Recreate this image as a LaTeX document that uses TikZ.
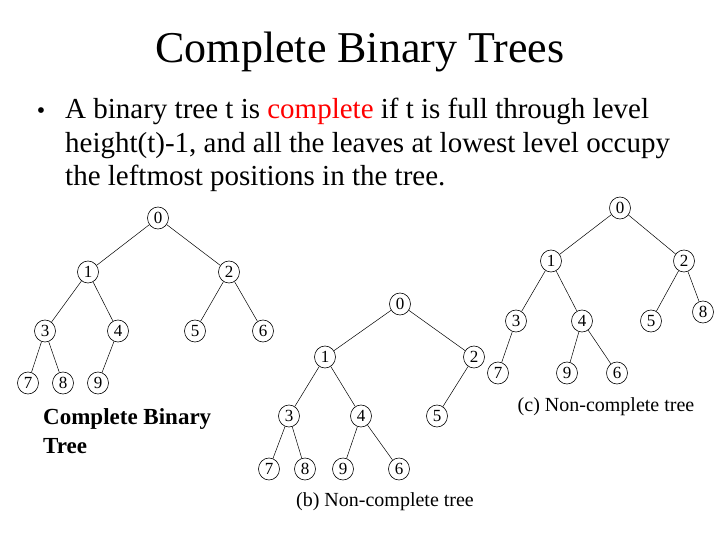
\documentclass[tikz,border=0pt]{standalone}
\usepackage{fontspec}
\usetikzlibrary{shapes.geometric}
\setmainfont{Liberation Serif}
\begin{document}
\begin{tikzpicture}[x=1pt,y=-1pt,
  nd/.style={draw,ellipse,minimum width=21pt,minimum height=22pt,inner sep=0pt,line width=0.6pt},
  lb/.style={font=\fontsize{17}{17}\selectfont},
  ed/.style={line width=0.5pt}]
\useasboundingbox (0,0) rectangle (720,540);
\node[font=\fontsize{44}{48}\selectfont] (title) at (360,52) {Complete Binary Trees};
\node[anchor=north west,align=left,inner sep=0pt,font=\fontsize{29}{33.5}\selectfont] (bul) at (65,98) {A binary tree t is \textcolor{red}{complete} if t is full through level\\height(t)-1, and all the leaves at lowest level occupy\\the leftmost positions in the tree.};
\node[font=\fontsize{24}{24}\selectfont] (dot) at (41,113) {•};
% tree a
\foreach \n/\x/\y in {a0/158/218,a1/88/272,a2/229/272,a3/45/331,a4/118/331,a5/195/331,a6/263/331,a7/28/383,a8/63/383,a9/98/383}
  \node[nd] (\n) at (\x,\y) {};
\foreach \n/\t in {a0/0,a1/1,a2/2,a3/3,a4/4,a5/5,a6/6,a7/7,a8/8,a9/9} \node[lb] at (\n) {\t};
\foreach \a/\b in {a0/a1,a0/a2,a1/a3,a1/a4,a2/a5,a2/a6,a3/a7,a3/a8,a4/a9} \draw[ed] (\a)--(\b);
% tree b
\foreach \n/\x/\y in {b0/400/304,b1/325/357,b2/474/357,b3/289/416,b4/361/416,b5/437/416,b7/269/469,b8/305/469,b9/343/469,b6/399/469}
  \node[nd] (\n) at (\x,\y) {};
\foreach \n/\t in {b0/0,b1/1,b2/2,b3/3,b4/4,b5/5,b6/6,b7/7,b8/8,b9/9} \node[lb] at (\n) {\t};
\foreach \a/\b in {b0/b1,b0/b2,b1/b3,b1/b4,b2/b5,b3/b7,b3/b8,b4/b9,b4/b6} \draw[ed] (\a)--(\b);
% tree c
\foreach \n/\x/\y in {c0/620/208,c1/551/261,c2/684/261,c3/516/321,c4/582/321,c5/651/321,c8/703/312,c7/498/373,c9/567/373,c6/617/373}
  \node[nd] (\n) at (\x,\y) {};
\foreach \n/\t in {c0/0,c1/1,c2/2,c3/3,c4/4,c5/5,c6/6,c7/7,c8/8,c9/9} \node[lb] at (\n) {\t};
\foreach \a/\b in {c0/c1,c0/c2,c1/c3,c1/c4,c2/c5,c2/c8,c3/c7,c4/c9,c4/c6} \draw[ed] (\a)--(\b);
\node[font=\fontsize{20}{20}\selectfont] (capc) at (606,407) {(c) Non-complete tree};
\node[font=\fontsize{20}{20}\selectfont] (capb) at (385,502) {(b) Non-complete tree};
\node[anchor=north west,align=left,inner sep=0pt,font=\fontsize{23}{29}\selectfont\bfseries] (capa) at (43,408) {Complete Binary\\Tree};
\end{tikzpicture}
\end{document}
